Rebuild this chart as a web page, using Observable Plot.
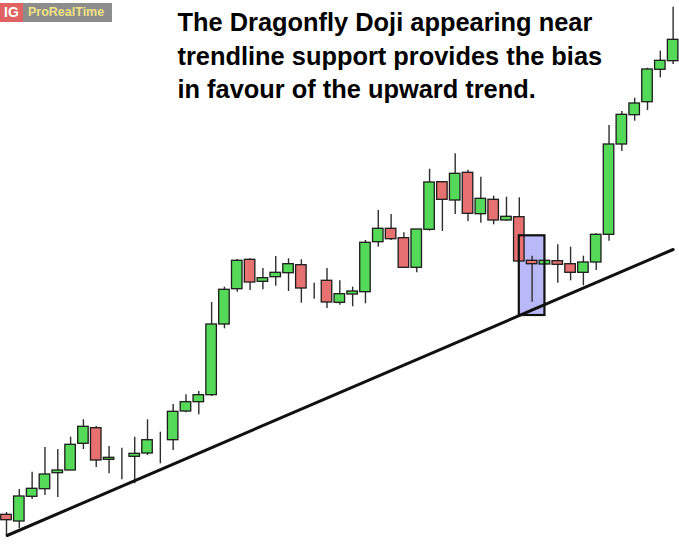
<!DOCTYPE html>
<html>
<head>
<meta charset="utf-8">
<script src="https://cdn.jsdelivr.net/npm/d3@7"></script>
<script src="https://cdn.jsdelivr.net/npm/@observablehq/plot@0.6"></script>
<style>
  html, body { margin: 0; padding: 0; background: #fff; }
  #wrap { position: relative; width: 679px; height: 545px; overflow: hidden; }
  #title { position: absolute; left: 177.5px; top: 6px; font-family: "Liberation Sans", Arial, sans-serif; font-weight: bold; font-size: 25.4px; line-height: 33.5px; color: #000; white-space: nowrap; }
  #logo { position: absolute; left: 0; top: 3px; height: 19px; display: flex; font-family: "Liberation Sans", Arial, sans-serif; font-weight: bold; }
  #logo .ig { background: #e06262; color: #fff; width: 23px; font-size: 14px; line-height: 19px; text-align: center; }
  #logo .prt { background: #8d8d8d; color: #efe383; width: 89px; font-size: 12.5px; line-height: 19px; padding-left: 5px; box-sizing: border-box; }
  svg { display: block; }
</style>
</head>
<body>
<div id="wrap">
  <div id="chart"></div>
  <div id="logo"><div class="ig">IG</div><div class="prt">ProRealTime</div></div>
  <div id="title">The Dragonfly Doji appearing near<br>trendline support provides the bias<br>in favour of the upward trend.</div>
</div>
<script>
// Candle values (arbitrary price units)
const opens  = [103.07,102.4,104.87,105.63,107.23,107.5,110.17,111.73,108.57,108.8,108.87,109.2,110.53,110.53,113.4,114.33,115.03,122.1,125.63,128.57,126.37,126.83,127.23,128.03,125.73,126.47,124.27,125.1,125.33,130.33,131.67,130.73,127.77,131.57,136.33,134.5,137.27,133.13,134.57,132.5,132.83,128.47,128.1,128.43,128.13,127.27,128.3,131.07,140.1,143.03,144.33,147.57,148.43];
const closes = [102.53,104.9,105.67,107.1,107.5,110.07,111.87,108.5,108.77,108.8,109.17,110.53,110.53,113.37,114.33,115.03,122.1,125.57,128.47,126.3,126.73,127.27,128.13,125.7,125.73,124.3,125.13,125.4,130.27,131.67,130.63,127.77,131.6,136.3,134.57,137.17,133.17,134.67,132.5,132.87,128.4,128.13,128.47,128.07,127.27,128.3,131.07,140.1,143.07,144.2,147.6,148.47,150.57];
const highs  = [103.3,105.6,107.33,109.8,109.6,110.83,112.57,111.9,109.9,109.73,110.83,112.57,111.33,114.1,115.07,115.4,124.3,125.83,128.6,128.67,127.7,128.9,128.67,128.57,126.23,127.7,126.47,125.83,130.5,133.5,133.1,131.27,131.6,137.63,136.4,139.17,137.53,136.83,134.93,134.83,134.77,128.93,128.47,130.07,129.83,128.93,131.17,142.0,143.4,144.73,147.73,149.43,153.83];
const lows   = [101.0,101.7,104.6,105.0,104.8,107.5,109.6,107.8,107.17,106.57,106.17,109.0,108.17,109.5,113.27,113.07,114.9,121.67,125.33,125.5,125.57,125.93,125.4,124.23,124.63,123.7,124.03,123.87,124.17,129.83,130.5,127.77,127.27,131.43,131.4,133.1,132.4,132.23,132.07,132.4,128.4,124.33,128.1,126.23,126.47,125.97,127.5,130.43,139.4,142.43,143.5,146.77,148.1];

// Trendline support (index, price)
const trendIdx   = [0.05, 52.0];
const trendPrice = [101.0, 129.6];

// Highlighted Dragonfly Doji box (index range, price range)
const boxIdx   = [40, 42];
const boxPrice = [123.0, 130.97];

const candles = opens.map((o, i) => ({i, open: o, close: closes[i], high: highs[i], low: lows[i]}));
const trend = trendIdx.map((x, k) => ({x, y: trendPrice[k]}));
const box = [{x1: boxIdx[0], x2: boxIdx[1], y1: boxPrice[0], y2: boxPrice[1]}];

const GREEN = "#55d958", RED = "#e77070", EDGE = "#1c1c1c";
const half = 0.41;

const chart = Plot.plot({
  width: 679,
  height: 545,
  margin: 0,
  x: {domain: [-0.468, 52.496], axis: null},
  y: {domain: [100, 154.5], axis: null},
  marks: [
    Plot.rect(box, {x1: "x1", x2: "x2", y1: "y1", y2: "y2", fill: "#b9b9fa"}),
    Plot.ruleX(candles, {x: "i", y1: "low", y2: "high", stroke: "#2e2e2e", strokeWidth: 1.4}),
    Plot.rect(candles, {
      x1: d => d.i - half, x2: d => d.i + half, y1: "open", y2: "close",
      fill: d => d.close > d.open ? GREEN : d.close < d.open ? RED : EDGE,
      stroke: EDGE, strokeWidth: d => d.close === d.open ? 2 : 1.3
    }),
    Plot.rect(box, {x1: "x1", x2: "x2", y1: "y1", y2: "y2", fill: "none", stroke: "#111", strokeWidth: 2.2}),
    Plot.line(trend, {x: "x", y: "y", stroke: "#111", strokeWidth: 3})
  ]
});
document.getElementById("chart").appendChild(chart);
</script>
</body>
</html>
